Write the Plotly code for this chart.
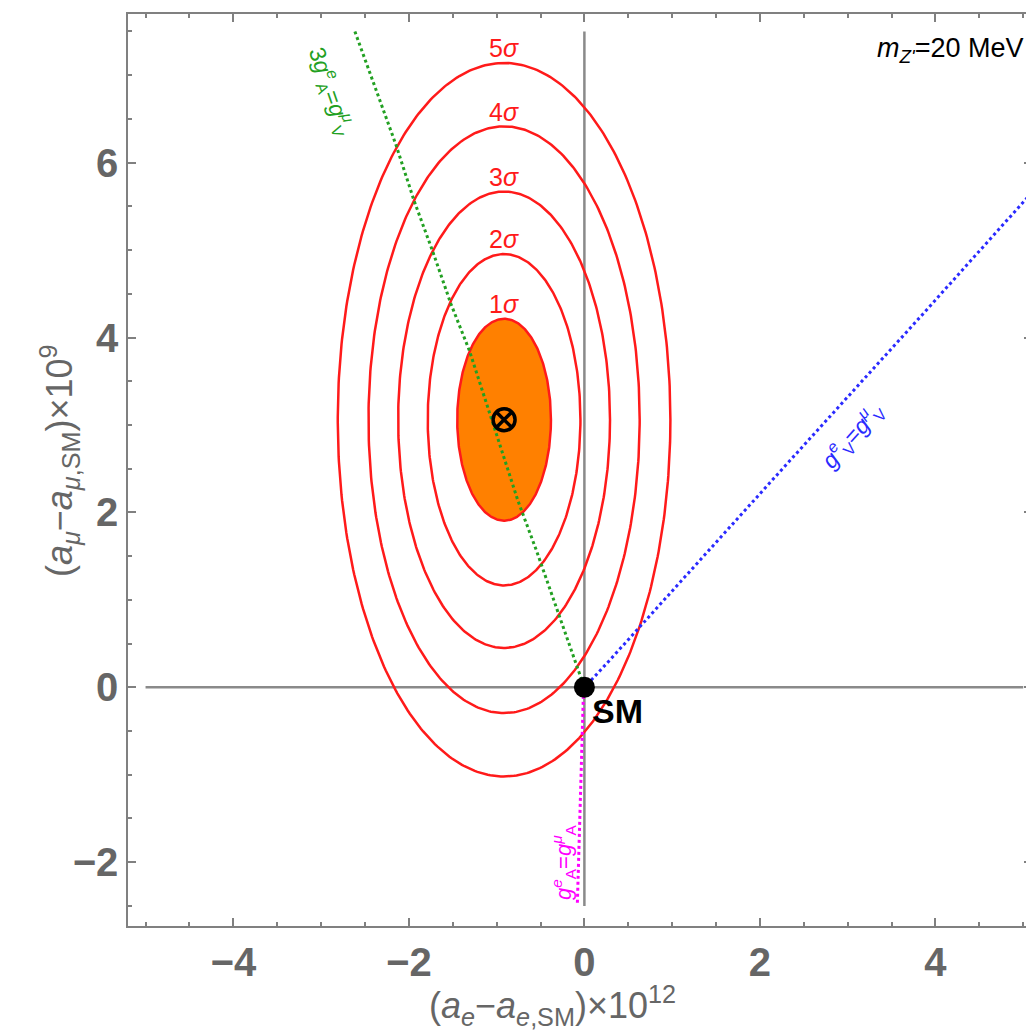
import numpy as np
import plotly.graph_objects as go

# ---------------- data ----------------
sigma_labels = ["1σ", "2σ", "3σ", "4σ", "5σ"]
center_x = -0.915
center_y = 3.06
half_width = [0.534, 0.87, 1.207, 1.545, 1.895]      # x semi-axes
half_height = [1.155, 1.895, 2.61, 3.355, 4.08]      # y semi-axes

green_x = [-2.615, -2.149, -1.939, -1.73, -1.519, -1.31, -0.756, -0.545, -0.069, -0.02]
green_y = [7.50, 6.21, 5.56, 4.99, 4.38, 3.85, 2.13, 1.56, 0.194, 0.06]
blue_x = [0.03, 0.294, 2.24, 3.84, 5.1]
blue_y = [0.03, 0.316, 2.48, 4.25, 5.66]
magenta_x = [-0.01, -0.08]
magenta_y = [-0.03, -2.47]

sm_point = (0.0, 0.0)
axis_x_span = [-5, 5]
axis_y_span = [-2.5, 7.5]
x_ticks = [-4, -2, 0, 2, 4]
y_ticks = [-2, 0, 2, 4, 6]

fig = go.Figure()

# gray axes through origin
fig.add_trace(go.Scatter(x=axis_x_span, y=[0, 0], mode="lines",
                         line=dict(color="#8a8a8a", width=2.5), hoverinfo="skip"))
fig.add_trace(go.Scatter(x=[0, 0], y=axis_y_span, mode="lines",
                         line=dict(color="#8a8a8a", width=2.5), hoverinfo="skip"))

# ellipses
t = np.linspace(0, 2 * np.pi, 400)
for i, (a, b) in enumerate(zip(half_width, half_height)):
    ex = center_x + a * np.cos(t)
    ey = center_y + b * np.sin(t)
    if i == 0:
        fig.add_trace(go.Scatter(x=ex, y=ey, mode="lines", fill="toself",
                                 fillcolor="#ff8000",
                                 line=dict(color="#ff1a1a", width=2.5), hoverinfo="skip"))
    else:
        fig.add_trace(go.Scatter(x=ex, y=ey, mode="lines",
                                 line=dict(color="#ff1a1a", width=2.5), hoverinfo="skip"))

# dotted relation lines
fig.add_trace(go.Scatter(x=green_x, y=green_y, mode="lines",
                         line=dict(color="#22a022", width=3, dash="dot"), hoverinfo="skip"))
fig.add_trace(go.Scatter(x=blue_x, y=blue_y, mode="lines",
                         line=dict(color="#2a2aff", width=3, dash="dot"), hoverinfo="skip"))
fig.add_trace(go.Scatter(x=magenta_x, y=magenta_y, mode="lines",
                         line=dict(color="#ff00ff", width=3, dash="dot"), hoverinfo="skip"))

# SM point and best-fit marker
fig.add_trace(go.Scatter(x=[sm_point[0]], y=[sm_point[1]], mode="markers",
                         marker=dict(color="black", size=21), hoverinfo="skip"))
fig.add_trace(go.Scatter(x=[center_x], y=[center_y], mode="markers",
                         marker=dict(symbol="circle-x-open", color="black", size=22,
                                     line=dict(width=3.5, color="black")), hoverinfo="skip"))

annotations = []
# sigma labels above ellipse tops
for lab, b in zip(sigma_labels, half_height):
    annotations.append(dict(x=center_x, y=center_y + b + 0.17, xref="x", yref="y",
                            text=lab[0] + "<i>σ</i>", showarrow=False,
                            font=dict(color="#ff1a1a", size=25, family="Arial"),
                            yanchor="middle"))
annotations.append(dict(x=0.38, y=-0.27, xref="x", yref="y", text="<b>SM</b>",
                        showarrow=False, font=dict(color="black", size=34, family="Arial")))
annotations.append(dict(x=-2.88, y=6.82, xref="x", yref="y",
                        text="3<i>g</i><sup><i>e</i></sup><sub>A</sub>=<i>g</i><sup><i>μ</i></sup><sub>V</sub>",
                        showarrow=False, textangle=71,
                        font=dict(color="#22a022", size=23, family="Arial")))
annotations.append(dict(x=3.05, y=2.88, xref="x", yref="y",
                        text="<i>g</i><sup><i>e</i></sup><sub>V</sub>=<i>g</i><sup><i>μ</i></sup><sub>V</sub>",
                        showarrow=False, textangle=-48,
                        font=dict(color="#2a2aff", size=23, family="Arial")))
annotations.append(dict(x=-0.245, y=-2.0, xref="x", yref="y",
                        text="<i>g</i><sup><i>e</i></sup><sub>A</sub>=<i>g</i><sup><i>μ</i></sup><sub>A</sub>",
                        showarrow=False, textangle=-90,
                        font=dict(color="#ff00ff", size=22, family="Arial")))
annotations.append(dict(x=0.992, y=0.961, xref="paper", yref="paper", xanchor="right",
                        yanchor="middle",
                        text="<i>m</i><sub><i>Z'</i></sub>=20 MeV", showarrow=False,
                        font=dict(color="black", size=27, family="Arial")))
# axis titles
annotations.append(dict(x=0.47, y=-0.087, xref="paper", yref="paper",
                        text="(<i>a<sub>e</sub></i>−<i>a</i><sub><i>e</i>,SM</sub>)×10<sup>12</sup>",
                        showarrow=False, yanchor="middle",
                        font=dict(color="#666666", size=36, family="Arial")))
annotations.append(dict(x=-0.075, y=0.51, xref="paper", yref="paper",
                        text="(<i>a<sub>μ</sub></i>−<i>a</i><sub><i>μ</i>,SM</sub>)×10<sup>9</sup>",
                        showarrow=False, textangle=-90, xanchor="center", yanchor="middle",
                        font=dict(color="#666666", size=36, family="Arial")))

axis_common = dict(showgrid=False, zeroline=False, showline=True, linecolor="#808080",
                   linewidth=1.5, mirror="ticks", ticks="inside", ticklen=8, tickwidth=1.5,
                   tickcolor="#808080",
                   tickfont=dict(color="#666666", size=40, family="Arial"))

fig.update_layout(
    width=1034, height=1036,
    margin=dict(l=120, r=10, t=4, b=118),
    plot_bgcolor="white", paper_bgcolor="white",
    showlegend=False,
    annotations=annotations,
    xaxis=dict(range=[-5.2, 5.1], tickvals=x_ticks,
               ticktext=[("<b>−" + str(abs(v)) + "</b>") if v < 0 else "<b>" + str(v) + "</b>" for v in x_ticks],
               minor=dict(dtick=0.5, tick0=0, ticks="inside", ticklen=4, tickcolor="#808080"),
               **axis_common),
    yaxis=dict(range=[-2.73, 7.7], tickvals=y_ticks,
               ticktext=[("<b>−" + str(abs(v)) + "</b>") if v < 0 else "<b>" + str(v) + "</b>" for v in y_ticks],
               minor=dict(dtick=0.5, tick0=0, ticks="inside", ticklen=4, tickcolor="#808080"),
               **axis_common),
)

fig.write_html("out.html")
